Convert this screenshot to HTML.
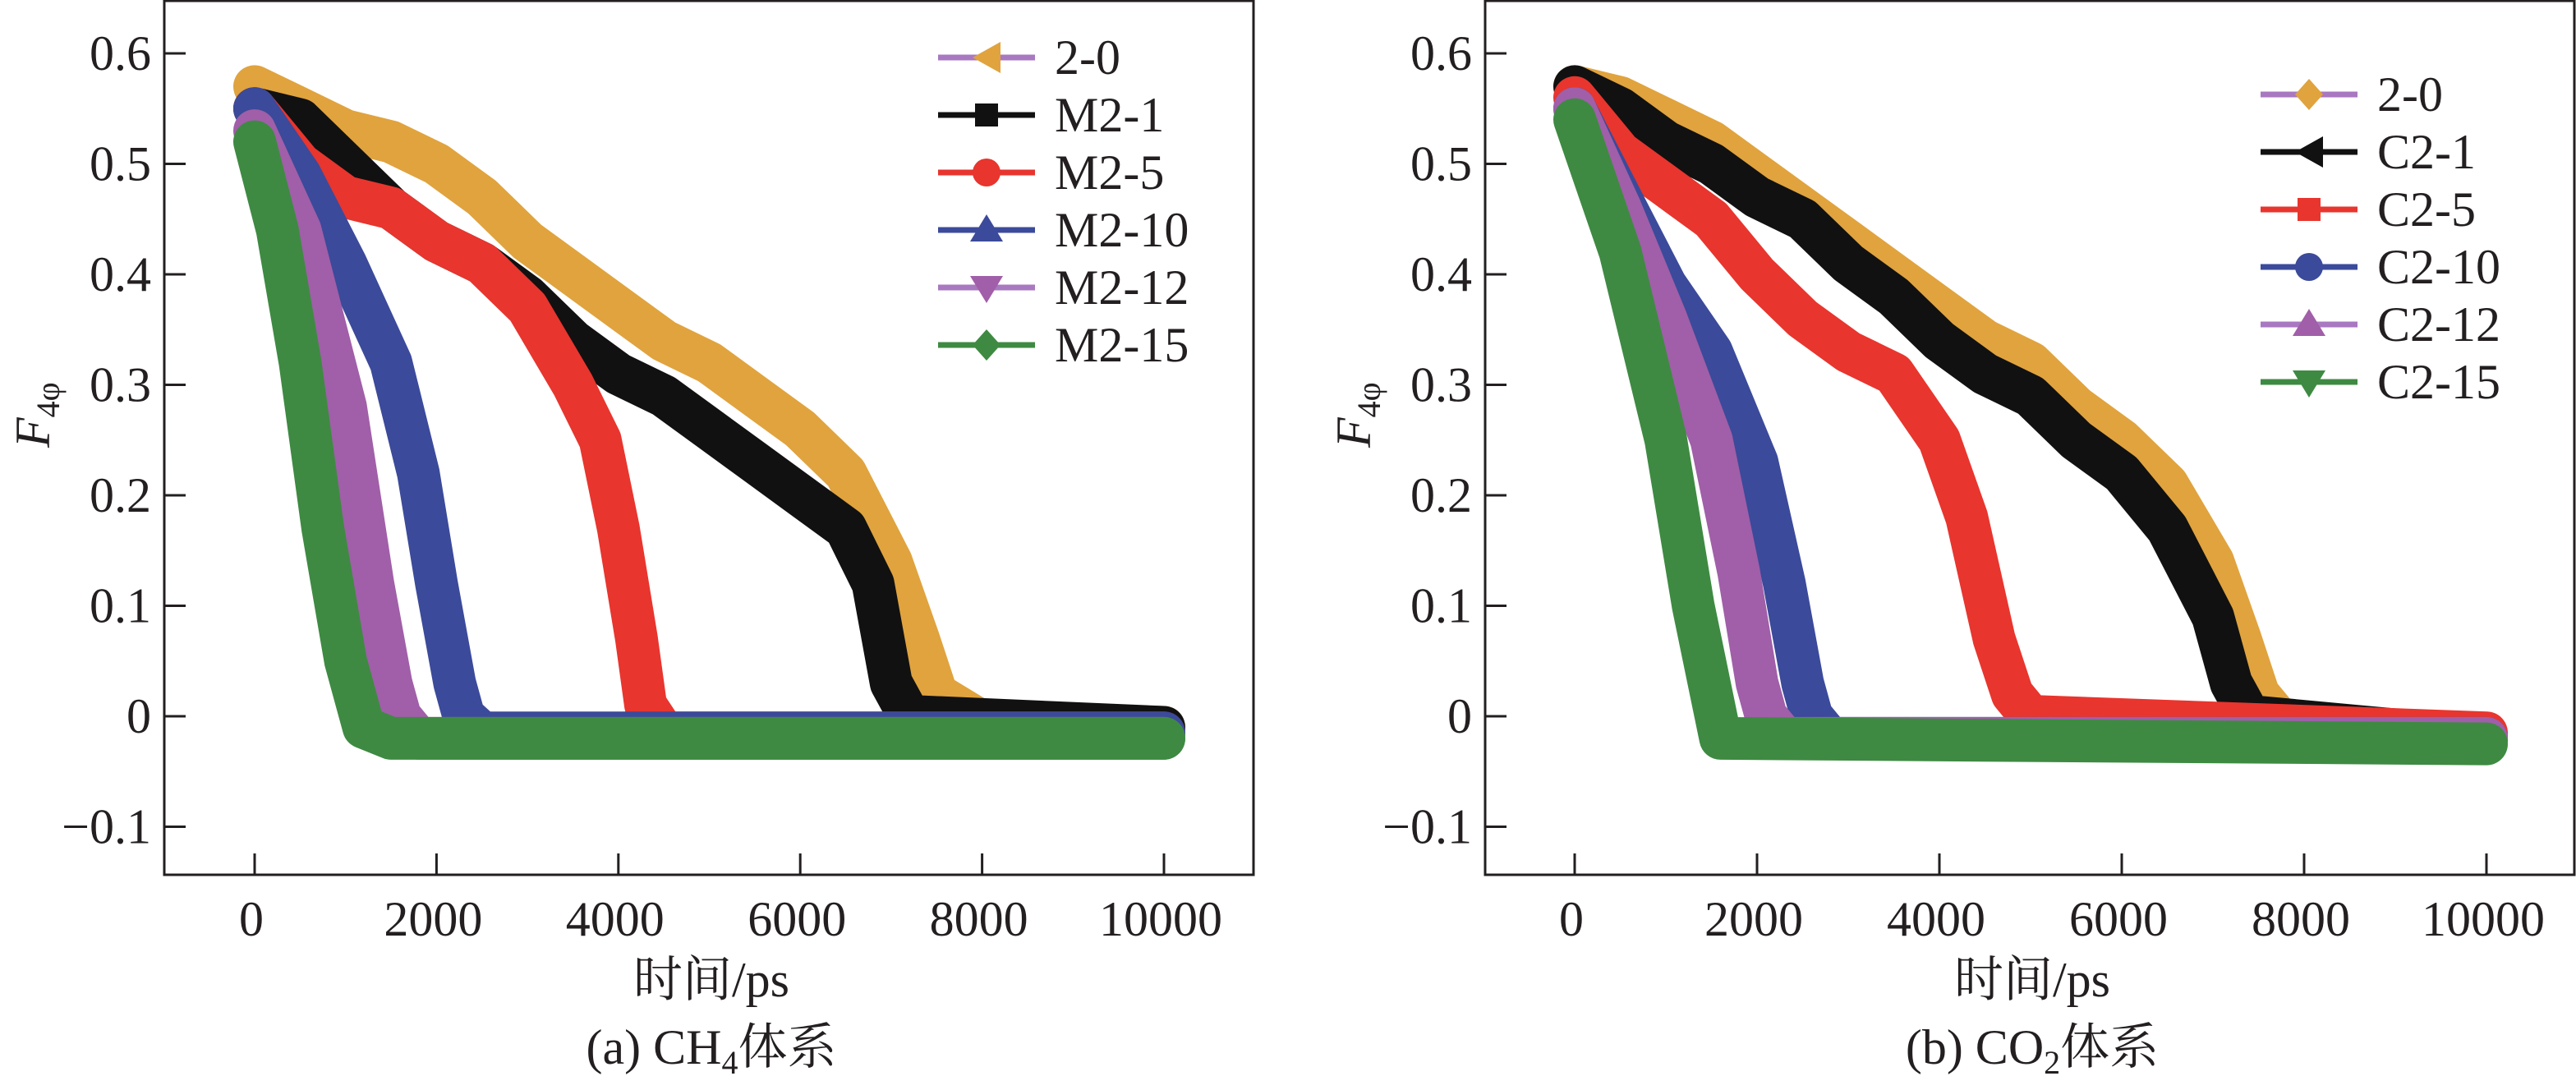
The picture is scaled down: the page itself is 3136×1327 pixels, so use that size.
<!DOCTYPE html>
<html><head><meta charset="utf-8">
<style>
html,body{margin:0;padding:0;background:#fff;overflow:hidden;}
svg{display:block;}
text{font-family:"Liberation Serif","Noto Serif CJK SC",serif;fill:#231f20;}
</style></head>
<body>
<svg id="fig" width="3136" height="1327" viewBox="0 0 3136 1327" xmlns="http://www.w3.org/2000/svg"></svg>
<script>
// ---- data ----
const xTicks = [0, 2000, 4000, 6000, 8000, 10000];
const yTicks = [-0.1, 0, 0.1, 0.2, 0.3, 0.4, 0.5, 0.6];
const yTickLabels = ["\u22120.1", "0", "0.1", "0.2", "0.3", "0.4", "0.5", "0.6"];

const seriesNamesA = ["2-0", "M2-1", "M2-5", "M2-10", "M2-12", "M2-15"];
const seriesNamesB = ["2-0", "C2-1", "C2-5", "C2-10", "C2-12", "C2-15"];

const a0T = [0,500,1000,1500,2000,2500,3000,3500,4000,4500,5000,5500,6000,6500,7000,7300,7500,8000,10000];
const a0V = [0.57,0.55,0.53,0.52,0.50,0.47,0.43,0.40,0.37,0.34,0.32,0.29,0.26,0.22,0.14,0.07,0.02,-0.005,-0.01];
const a1T = [0,500,1000,1500,2000,2500,3000,3500,4000,4500,5000,5500,6000,6500,6800,7000,7200,10000];
const a1V = [0.55,0.54,0.50,0.46,0.43,0.41,0.38,0.34,0.31,0.29,0.26,0.23,0.20,0.17,0.12,0.03,0.0,-0.01];
const a2T = [0,500,1000,1500,2000,2500,3000,3500,3800,4000,4200,4300,4500,10000];
const a2V = [0.55,0.50,0.47,0.46,0.43,0.41,0.37,0.30,0.25,0.17,0.07,0.01,-0.015,-0.015];
const a3T = [0,500,1000,1500,1800,2000,2200,2300,2500,10000];
const a3V = [0.55,0.49,0.41,0.32,0.22,0.12,0.03,0.0,-0.015,-0.015];
const a4T = [0,500,1000,1300,1500,1600,1800,10000];
const a4V = [0.53,0.44,0.28,0.12,0.03,0.0,-0.02,-0.02];
const a5T = [0,250,500,750,1000,1200,1500,10000];
const a5V = [0.52,0.44,0.32,0.17,0.05,-0.01,-0.02,-0.02];

const b0T = [0,500,1000,1500,2000,2500,3000,3500,4000,4500,5000,5500,6000,6500,7000,7300,7500,7800,10000];
const b0V = [0.57,0.56,0.54,0.52,0.49,0.46,0.43,0.40,0.37,0.34,0.32,0.28,0.25,0.21,0.14,0.07,0.02,-0.01,-0.02];
const b1T = [0,500,1000,1500,2000,2500,3000,3500,4000,4500,5000,5500,6000,6500,7000,7200,7400,10000];
const b1V = [0.57,0.55,0.52,0.50,0.47,0.45,0.41,0.38,0.34,0.31,0.29,0.25,0.22,0.17,0.09,0.03,0.0,-0.02];
const b2T = [0,500,1000,1500,2000,2500,3000,3500,4000,4300,4600,4800,5000,10000];
const b2V = [0.56,0.51,0.48,0.45,0.40,0.36,0.33,0.31,0.25,0.18,0.07,0.02,0.0,-0.015];
const b3T = [0,500,1000,1500,2000,2300,2500,2600,2800,10000];
const b3V = [0.55,0.47,0.39,0.33,0.23,0.12,0.03,0.0,-0.02,-0.02];
const b4T = [0,500,1000,1500,1800,2000,2100,2300,10000];
const b4V = [0.55,0.46,0.36,0.25,0.13,0.03,0.0,-0.02,-0.02];
const b5T = [0,500,1000,1300,1500,1600,10000];
const b5V = [0.54,0.42,0.25,0.10,0.02,-0.02,-0.025];

const colors = ["#e0a33e", "#111111", "#e8352e", "#3b4a9a", "#a05fa8", "#3e8a42"];
const legendLineColors = ["#a878c0", "#111111", "#e8352e", "#3b4a9a", "#a878c0", "#3e8a42"];
const markersA = ["left", "square", "circle", "up", "down", "diamond"];
const markersB = ["diamond", "left", "square", "circle", "up", "down"];

const NS = "http://www.w3.org/2000/svg";
const svg = document.getElementById("fig");
function mk(tag, attrs, parent) {
  const e = document.createElementNS(NS, tag);
  for (const k in attrs) e.setAttribute(k, attrs[k]);
  (parent || svg).appendChild(e);
  return e;
}

function marker(g, type, cx, cy, color) {
  const s = 17;
  let el;
  if (type === "circle") el = mk("circle", {cx: cx, cy: cy, r: s, fill: color}, g);
  else if (type === "square") el = mk("rect", {x: cx - 14, y: cy - 14, width: 28, height: 28, fill: color}, g);
  else {
    let p;
    if (type === "left") p = [[cx - s, cy], [cx + s, cy - 19], [cx + s, cy + 19]];
    if (type === "up") p = [[cx, cy - 19], [cx + 20, cy + 14], [cx - 20, cy + 14]];
    if (type === "down") p = [[cx, cy + 19], [cx + 20, cy - 14], [cx - 20, cy - 14]];
    if (type === "diamond") p = [[cx, cy - 19], [cx + 17, cy], [cx, cy + 19], [cx - 17, cy]];
    el = mk("polygon", {points: p.map(q => q.join(",")).join(" "), fill: color}, g);
  }
  
  
}

function panel(opt) {
  const g = mk("g", {});
  
  
  const x0 = opt.left, x1 = opt.right, yTop = 0, yBot = 1065;
  const sx = v => opt.xZero + (v / 10000) * opt.xSpan;
  const sy = v => 872 - v * 1345;

  const cid = "clip-" + opt.name;
  const cp = mk("clipPath", {id: cid}, g);
  mk("rect", {x: x0, y: yTop, width: x1 - x0, height: yBot - yTop}, cp);

  const dg = mk("g", {"clip-path": "url(#" + cid + ")"}, g);
  opt.series.forEach((s, i) => {
    const pts = s.t.map((t, j) => sx(t).toFixed(1) + "," + sy(s.v[j]).toFixed(1)).join(" ");
    const pl = mk("polyline", {points: pts, fill: "none", stroke: colors[i], "stroke-width": 52, "stroke-linejoin": "round", "stroke-linecap": "round"}, dg);
    
    
  });

  const fr = mk("rect", {x: x0, y: yTop + 1, width: x1 - x0, height: yBot - yTop - 1, fill: "none", stroke: "#231f20", "stroke-width": 3}, g);
  
  

  xTicks.forEach(t => {
    const x = sx(t);
    const tk = mk("line", {x1: x, x2: x, y1: yBot, y2: yBot - 26, stroke: "#231f20", "stroke-width": 3}, g);
    
    
    const tl = mk("text", {x: x - 4, y: 1139, "font-size": 60, "text-anchor": "middle"}, g);
    tl.textContent = t;
    
    
  });
  yTicks.forEach((t, i) => {
    const y = sy(t);
    const tk = mk("line", {x1: x0, x2: x0 + 26, y1: y, y2: y, stroke: "#231f20", "stroke-width": 3}, g);
    
    
    const tl = mk("text", {x: x0 - 16, y: y + 20, "font-size": 60, "text-anchor": "end"}, g);
    tl.textContent = yTickLabels[i];
    
    
  });

  const yl = mk("text", {transform: "translate(" + opt.yLabelX + ",545) rotate(-90)", "font-size": 60}, g);
  
  
  const f = mk("tspan", {"font-style": "italic"}, yl); f.textContent = "F";
  const sub = mk("tspan", {"font-size": 40, dy: 12}, yl); sub.textContent = "4\u03c6";

  const xl = mk("text", {x: opt.xLabelX, y: 1213, "font-size": 60, "text-anchor": "middle"}, g);
  xl.textContent = "时间/ps";
  
  

  const cap = mk("text", {x: opt.xLabelX, y: 1295, "font-size": 60, "text-anchor": "middle"}, g);
  
  
  const c1 = mk("tspan", {}, cap); c1.textContent = opt.cap1;
  const c2 = mk("tspan", {"font-size": 40, dy: 12}, cap); c2.textContent = opt.capSub;
  const c3 = mk("tspan", {dy: -12}, cap); c3.textContent = "体系";

  const lg = mk("g", {}, g);
  
  
  opt.names.forEach((n, i) => {
    const y = opt.legY + i * 70;
    const eg = mk("g", {}, lg);
    
    
    mk("line", {x1: opt.legX, x2: opt.legX + 118, y1: y, y2: y, stroke: legendLineColors[i], "stroke-width": 7}, eg);
    marker(eg, opt.markers[i], opt.legX + 59, y, colors[i]);
    const t = mk("text", {x: opt.legX + 142, y: y + 20, "font-size": 60}, eg);
    t.textContent = n;
    
    
  });
}

panel({
  name: "panel-a", left: 200, right: 1526, xZero: 310, xSpan: 1107,
  series: [{t:a0T,v:a0V},{t:a1T,v:a1V},{t:a2T,v:a2V},{t:a3T,v:a3V},{t:a4T,v:a4V},{t:a5T,v:a5V}],
  names: seriesNamesA, markers: markersA,
  legX: 1142, legY: 70, yLabelX: 60, xLabelX: 866, cap1: "(a) CH", capSub: "4"
});
panel({
  name: "panel-b", left: 1808, right: 3134, xZero: 1917, xSpan: 1110,
  series: [{t:b0T,v:b0V},{t:b1T,v:b1V},{t:b2T,v:b2V},{t:b3T,v:b3V},{t:b4T,v:b4V},{t:b5T,v:b5V}],
  names: seriesNamesB, markers: markersB,
  legX: 2752, legY: 115, yLabelX: 1668, xLabelX: 2474, cap1: "(b) CO", capSub: "2"
});
</script>
</body></html>
